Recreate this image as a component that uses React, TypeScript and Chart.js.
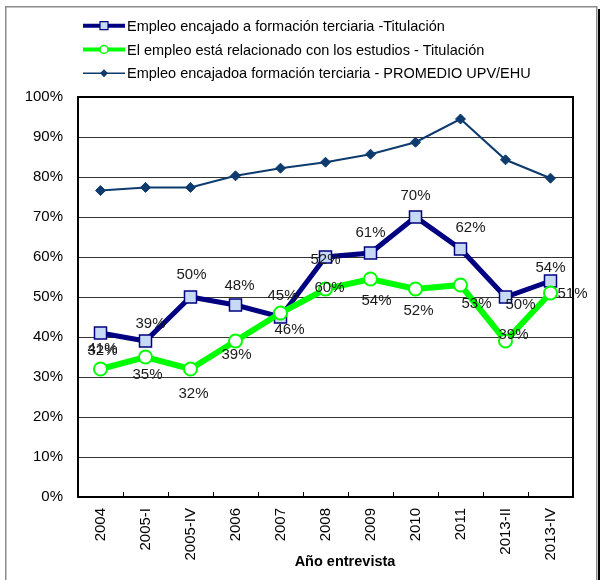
import React, { useEffect, useRef } from 'react';
import { Chart, registerables } from 'chart.js';

Chart.register(...registerables);

// ---------------- DATA ----------------
const categories = ['2004', '2005-I', '2005-IV', '2006', '2007', '2008', '2009', '2010', '2011', '2013-II', '2013-IV'];
const seriesNames = [
  'Empleo encajado a formación terciaria -Titulación',
  'El empleo está relacionado con los estudios - Titulación',
  'Empleo encajadoa formación terciaria - PROMEDIO UPV/EHU',
];
const encajadoTitulacion = [41, 39, 50, 48, 45, 60, 61, 70, 62, 50, 54];
const relacionadoTitulacion = [32, 35, 32, 39, 46, 52, 54.5, 52, 53, 39, 51];
const encajadoPromedio = [76.6, 77.4, 77.4, 80.3, 82.2, 83.7, 85.7, 88.7, 94.5, 84.3, 79.7];
const encajadoLabels = ['41%', '39%', '50%', '48%', '45%', '52%', '61%', '70%', '62%', '50%', '54%'];
const relacionadoLabels = ['32%', '35%', '32%', '39%', '46%', '60%', '54%', '52%', '53%', '39%', '51%'];
const yMin = 0;
const yMax = 100;
const yStep = 10;
const xTitle = 'Año entrevista';

// ---------------- STYLE ----------------
const FONT = '"Liberation Sans", Arial, Helvetica, sans-serif';
const NAVY = '#000080';
const NAVY_FILL = '#c6d9f5';
const GREEN = '#00ff00';
const AVG = '#0d3b6e';

// label offsets (dx, dy) relative to each point, per series
const labelOffsets: number[][][] = [
  [[2, 16], [5, -17], [1, -22], [4, -19], [2, -21], [0, 3], [0, -20], [0, -21], [10, -21], [15, 8], [0, -13]],
  [[2, -18], [2, 18], [3, 25], [1, 14], [9, 17], [4, -1], [6, 22], [3, 22], [16, 19], [8, -6], [22, 1]],
];
const labelTexts = [encajadoLabels, relacionadoLabels];

function drawMarker(ctx: CanvasRenderingContext2D, kind: string, x: number, y: number, r: number, fill: string, stroke: string, lw: number) {
  ctx.save();
  ctx.beginPath();
  if (kind === 'rect') {
    ctx.rect(x - r, y - r, 2 * r, 2 * r);
  } else if (kind === 'circle') {
    ctx.arc(x, y, r, 0, Math.PI * 2);
  } else {
    ctx.moveTo(x, y - r);
    ctx.lineTo(x + r, y);
    ctx.lineTo(x, y + r);
    ctx.lineTo(x - r, y);
    ctx.closePath();
  }
  ctx.fillStyle = fill;
  ctx.fill();
  if (lw > 0) {
    ctx.lineWidth = lw;
    ctx.strokeStyle = stroke;
    ctx.stroke();
  }
  ctx.restore();
}

const decorPlugin = {
  id: 'decor',
  beforeDraw(chart: any) {
    const { ctx, width, height } = chart;
    ctx.save();
    ctx.fillStyle = '#ffffff';
    ctx.fillRect(0, 0, width, height);
    // outer frame
    ctx.strokeStyle = '#8c8c8c';
    ctx.lineWidth = 1.5;
    ctx.beginPath();
    ctx.moveTo(5.75, height + 5);
    ctx.lineTo(5.75, 6.75);
    ctx.lineTo(596.75, 6.75);
    ctx.lineTo(596.75, height + 5);
    ctx.stroke();
    ctx.strokeStyle = '#000000';
    ctx.lineWidth = 2;
    ctx.beginPath();
    ctx.moveTo(599, 9);
    ctx.lineTo(599, height + 5);
    ctx.stroke();
    ctx.restore();
  },
  beforeDatasetsDraw(chart: any) {
    const { ctx, chartArea } = chart;
    const { left, right, top, bottom } = chartArea;
    ctx.save();
    // inner tick marks at category boundaries
    const xs = chart.scales.x;
    const n = categories.length;
    const step = (right - left) / n;
    ctx.strokeStyle = '#000';
    ctx.lineWidth = 1;
    ctx.beginPath();
    for (let i = 1; i < n; i++) {
      const px = Math.round(xs.getPixelForValue(i) - step / 2) + 0.5;
      ctx.moveTo(px, bottom);
      ctx.lineTo(px, bottom - 5);
    }
    ctx.stroke();
    // plot area border
    ctx.strokeStyle = '#000';
    ctx.lineWidth = 2;
    ctx.strokeRect(left, top, right - left, bottom - top);
    ctx.restore();
  },
  afterDatasetsDraw(chart: any) {
    const { ctx } = chart;
    ctx.save();
    ctx.font = `15px ${FONT}`;
    ctx.fillStyle = '#1a1a1a';
    ctx.textAlign = 'center';
    ctx.textBaseline = 'middle';
    for (let d = 0; d < 2; d++) {
      const meta = chart.getDatasetMeta(d);
      meta.data.forEach((pt: any, i: number) => {
        const [dx, dy] = labelOffsets[d][i];
        ctx.fillText(labelTexts[d][i], pt.x + dx, pt.y + dy);
      });
    }
    ctx.restore();
  },
  afterDraw(chart: any) {
    const { ctx } = chart;
    ctx.save();
    // legend
    const rows = [25.7, 49.5, 73.3];
    const styles = [
      { color: NAVY, lw: 4, kind: 'rect', r: 4, fill: NAVY_FILL, mlw: 1.2 },
      { color: GREEN, lw: 4, kind: 'circle', r: 4, fill: '#ffffff', mlw: 1.5 },
      { color: AVG, lw: 1.5, kind: 'diamond', r: 4, fill: AVG, mlw: 0 },
    ];
    seriesNames.forEach((name, i) => {
      const y = rows[i];
      const s = styles[i];
      ctx.strokeStyle = s.color;
      ctx.lineWidth = s.lw;
      ctx.beginPath();
      ctx.moveTo(83, y);
      ctx.lineTo(125, y);
      ctx.stroke();
      drawMarker(ctx, s.kind, 104, y, s.r, s.fill, s.color, s.mlw);
      ctx.font = `14.5px ${FONT}`;
      ctx.fillStyle = '#000';
      ctx.textAlign = 'left';
      ctx.textBaseline = 'middle';
      ctx.fillText(name, 127, y + 1);
    });
    // x axis title
    ctx.font = `bold 14.5px ${FONT}`;
    ctx.fillStyle = '#000';
    ctx.textAlign = 'center';
    ctx.textBaseline = 'middle';
    ctx.fillText(xTitle, 345, 562);
    ctx.restore();
  },
};

export default function App() {
  const canvasRef = useRef<HTMLCanvasElement | null>(null);

  useEffect(() => {
    if (!canvasRef.current) return;
    const chart = new Chart(canvasRef.current, {
      type: 'line',
      data: {
        labels: categories,
        datasets: [
          {
            label: seriesNames[0],
            data: encajadoTitulacion,
            borderColor: NAVY,
            borderWidth: 5,
            pointStyle: 'rect',
            pointRadius: 8.5,
            pointBackgroundColor: NAVY_FILL,
            pointBorderColor: NAVY,
            pointBorderWidth: 1.5,
            tension: 0,
            order: 2,
          },
          {
            label: seriesNames[1],
            data: relacionadoTitulacion,
            borderColor: GREEN,
            borderWidth: 6,
            pointStyle: 'circle',
            pointRadius: 6.5,
            pointBackgroundColor: '#ffffff',
            pointBorderColor: GREEN,
            pointBorderWidth: 2,
            tension: 0,
            order: 1,
          },
          {
            label: seriesNames[2],
            data: encajadoPromedio,
            borderColor: AVG,
            borderWidth: 2,
            pointStyle: 'rectRot',
            pointRadius: 5,
            pointBackgroundColor: AVG,
            pointBorderColor: AVG,
            pointBorderWidth: 1,
            tension: 0,
            order: 3,
          },
        ],
      },
      options: {
        responsive: false,
        animation: false,
        events: [],
        layout: { padding: { top: 97, right: 27, bottom: 0, left: 0 } },
        plugins: {
          legend: { display: false },
          tooltip: { enabled: false },
          title: { display: false },
        },
        scales: {
          x: {
            offset: true,
            grid: { display: false, drawTicks: false },
            border: { display: false },
            ticks: {
              autoSkip: false,
              minRotation: 90,
              maxRotation: 90,
              padding: 11,
              color: '#000',
              font: { family: FONT, size: 15 },
            },
            afterFit: (s: any) => {
              s.height = 83;
            },
          },
          y: {
            min: yMin,
            max: yMax,
            ticks: {
              stepSize: yStep,
              padding: 15,
              color: '#000',
              font: { family: FONT, size: 15 },
              callback: (v: any) => `${v}%`,
            },
            grid: { color: '#333333', lineWidth: 1, drawTicks: false },
            border: { display: false },
            afterFit: (s: any) => {
              s.width = 78;
            },
          },
        },
      },
      plugins: [decorPlugin],
    });
    return () => chart.destroy();
  }, []);

  return (
    <div style={{ position: 'fixed', left: 0, top: 0, width: 600, height: 580, background: '#fff' }}>
      <canvas ref={canvasRef} width={600} height={580} style={{ display: 'block' }} />
    </div>
  );
}
